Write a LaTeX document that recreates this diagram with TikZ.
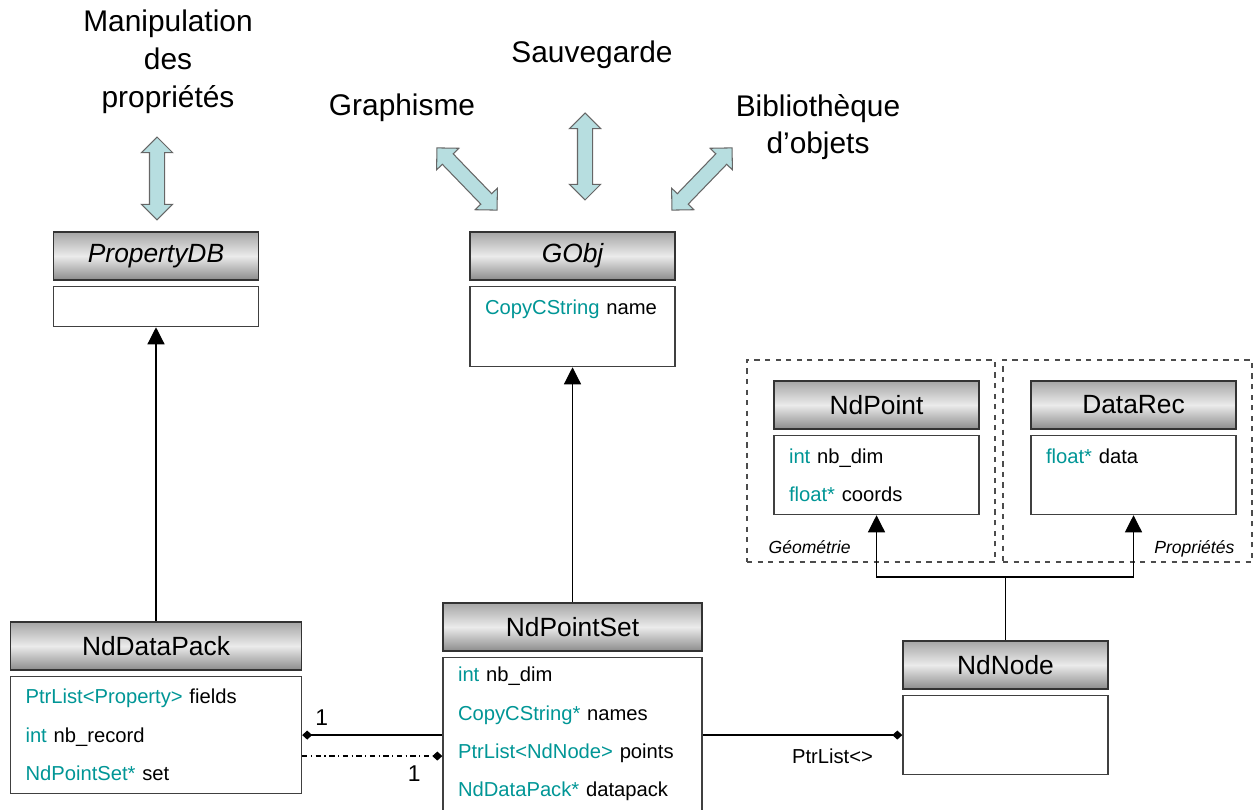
\documentclass[tikz,border=0pt]{standalone}
\usepackage{fontspec}
\setmainfont{Liberation Sans}
\usetikzlibrary{arrows.meta,positioning,shapes.arrows}
\definecolor{fieldteal}{RGB}{0,150,150}
\definecolor{arrowblue}{RGB}{183,222,224}
\newcommand{\attr}[2]{{\color{fieldteal}#1} #2}

\begin{document}
\begin{tikzpicture}[
        x=0.02cm, y=-0.02cm,
        every node/.style={font=\fontsize{11.5}{21.8}\selectfont},
        toplabel/.style={font=\fontsize{17}{21.5}\selectfont, align=center},
        classhead/.style={draw=black!80, line width=1pt, top color=black!35, bottom color=black!45, middle color=white!92!black, minimum width=4.1cm, minimum height=0.96cm, inner sep=0pt, font=\fontsize{15}{18}\selectfont},
        classbody/.style={draw=black!75, line width=0.8pt, fill=white, text width=3.5cm, inner xsep=0.3cm, inner ysep=0pt, align=left, minimum height=#1},
        bigarrow/.style={double arrow, draw=black!60, line width=0.6pt, fill=arrowblue, double arrow head extend=0.16cm, double arrow head indent=0cm, inner sep=0.14cm, minimum width=0pt},
        inherit/.style={-{Triangle[width=0.34cm,length=0.34cm]}, line width=0.7pt},
        assoc/.style={line width=0.7pt},
        mult/.style={font=\fontsize{13}{15}\selectfont},
        groupbox/.style={draw=black!70, dashed, line width=0.7pt},
        grouplabel/.style={font=\fontsize{10}{12}\selectfont\itshape}
    ]
    \useasboundingbox (0,0) rectangle (1260,810);

    % labels and double arrows at the top
    \node[toplabel] (propsLabel) at (168,62) {Manipulation\\des\\propriétés};
    \node[toplabel] (saveLabel) at (592,55) {Sauvegarde};
    \node[toplabel] (gfxLabel) at (402,108) {Graphisme};
    \node[toplabel] (libLabel) at (818,127) {Bibliothèque\\d’objets};

    \node[bigarrow, rotate=90, minimum height=1.66cm] (propsArrow) at (157,178.5) {};
    \node[bigarrow, rotate=90, minimum height=1.74cm] (saveArrow) at (585,156.5) {};
    \node[bigarrow, rotate=-46, minimum height=1.73cm] (gfxArrow) at (467,179) {};
    \node[bigarrow, rotate=46, minimum height=1.73cm] (libArrow) at (702,179) {};

    % groups
    \node[groupbox, minimum width=4.96cm, minimum height=4.04cm] (geomGroup) at (871,461) {};
    \node[groupbox, minimum width=4.98cm, minimum height=4.04cm] (propGroup) at (1127.5,461) {};
    \node[grouplabel, anchor=base west] (geomLabel) at ([xshift=0.32cm,yshift=0.18cm]geomGroup.south west) {Géométrie};
    \node[grouplabel, anchor=base east] (propLabel) at ([xshift=-0.24cm,yshift=0.18cm]propGroup.south east) {Propriétés};

    % classes
    \node[classhead] (propdb) at (156,256) {\itshape PropertyDB};
    \node[classbody=0.8cm, below=0.1cm of propdb] (propdbBody) {};

    \node[classhead] (gobj) at (572.5,256) {\itshape GObj};
    \node[classbody=1.6cm, below=0.1cm of gobj] (gobjBody) {\attr{CopyCString}{name}\\\mbox{}};

    \node[classhead] (ndpoint) at (876.5,405) {NdPoint};
    \node[classbody=1.58cm, below=0.1cm of ndpoint] (ndpointBody) {\attr{int}{nb\_dim}\\\attr{float*}{coords}};

    \node[classhead] (datarec) at (1133.5,405) {DataRec};
    \node[classbody=1.58cm, below=0.1cm of datarec] (datarecBody) {\attr{float*}{data}\\\mbox{}};

    \node[classhead, minimum width=5.82cm] (ndpack) at (156,646) {NdDataPack};
    \node[classbody=2.34cm, text width=5.22cm, below=0.1cm of ndpack] (ndpackBody) {\attr{PtrList<Property>}{fields}\\\attr{int}{nb\_record}\\\attr{NdPointSet*}{set}};

    \node[classhead, minimum width=5.18cm] (ndset) at (572.5,627) {NdPointSet};
    \node[classbody=3.06cm, text width=4.58cm, below=0.1cm of ndset] (ndsetBody) {\attr{int}{nb\_dim}\\\attr{CopyCString*}{names}\\\attr{PtrList<NdNode>}{points}\\\attr{NdDataPack*}{datapack}};

    \node[classhead] (ndnode) at (1005.5,665) {NdNode};
    \node[classbody=1.58cm, below=0.1cm of ndnode] (ndnodeBody) {};

    % inheritance
    \draw[inherit] (ndpack.north) -- (propdbBody.south);
    \draw[inherit] (ndset.north) -- (gobjBody.south);
    \coordinate (branch) at (1005.5,577);
    \draw[assoc] (ndnode.north) -- (branch);
    \draw[inherit] (branch) -| (ndpointBody.south);
    \draw[inherit] (branch) -| (datarecBody.south);

    % associations
    \draw[assoc, {Diamond[length=0.2cm,width=0.18cm]}-] (ndpackBody.east) -- node[pos=0.14, above=2pt, mult] (oneTop) {1} (ndpackBody.east -| ndsetBody.west);
    \coordinate (dashStart) at ([yshift=-0.42cm]ndpackBody.east);
    \draw[assoc, dash dot, -{Diamond[length=0.2cm,width=0.18cm]}] (dashStart) -- node[pos=0.8, below=2pt, mult] (oneBottom) {1} (dashStart -| ndsetBody.west);
    \draw[assoc, -{Diamond[length=0.2cm,width=0.18cm]}] (ndsetBody.east |- ndnodeBody.west) -- node[pos=0.65, below=4pt] (ptrLabel) {PtrList<>} (ndnodeBody.west);
\end{tikzpicture}
\end{document}
